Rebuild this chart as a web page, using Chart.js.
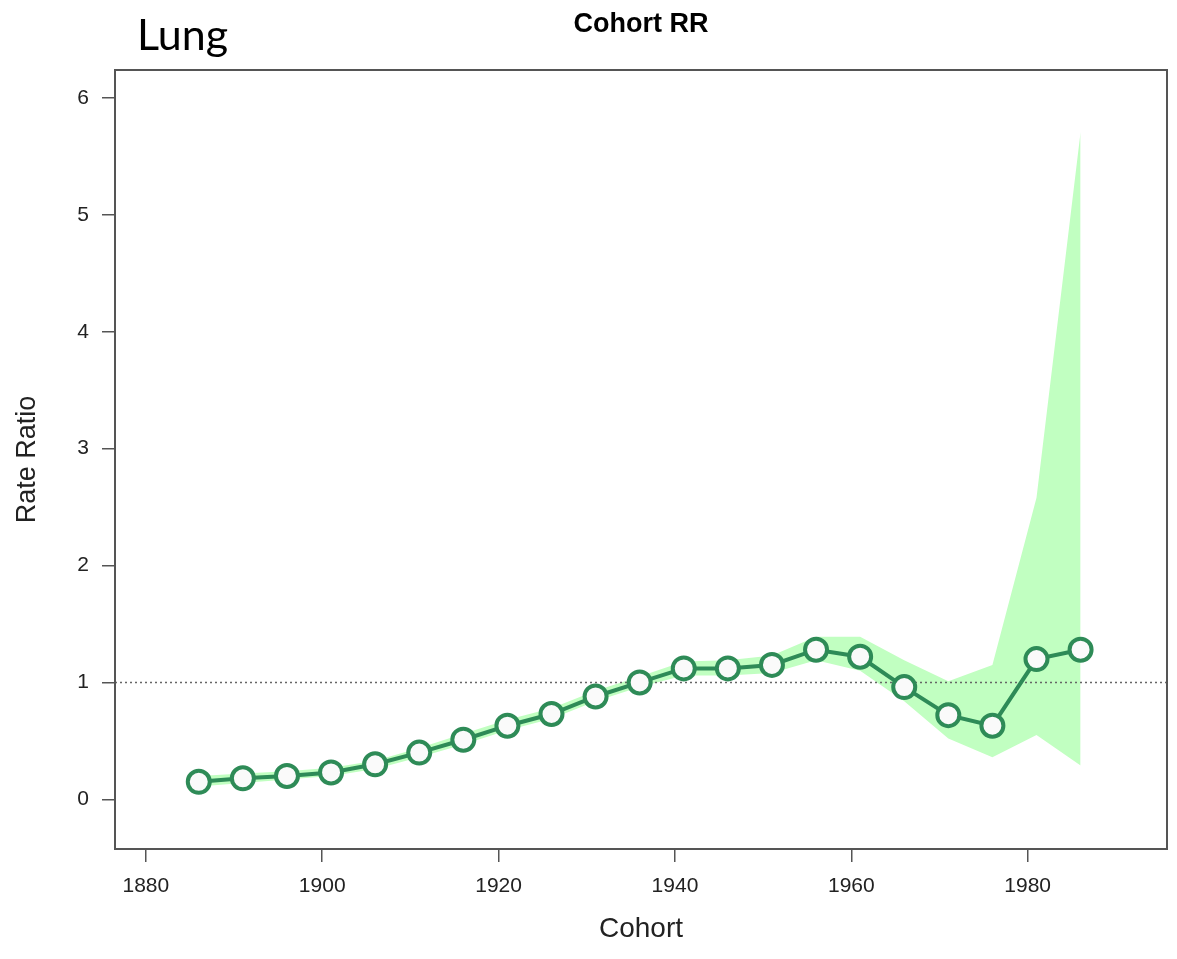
<!DOCTYPE html>
<html>
<head>
<meta charset="utf-8">
<script src="https://cdn.jsdelivr.net/npm/chart.js@4/dist/chart.umd.min.js"></script>
<style>
  html, body { margin: 0; padding: 0; background: #fff; }
  #rr { display: block; }
</style>
</head>
<body>
<canvas id="rr" width="1177" height="959"></canvas>
<script>
// cohort rate ratios
var cohorts = [1886, 1891, 1896, 1901, 1906, 1911, 1916, 1921, 1926, 1931, 1936,
               1941, 1946, 1951, 1956, 1961, 1966, 1971, 1976, 1981, 1986];
var rateRatio = [0.15, 0.18, 0.20, 0.23, 0.30, 0.40, 0.51, 0.63, 0.73, 0.88, 1.00,
                 1.12, 1.12, 1.15, 1.28, 1.22, 0.96, 0.72, 0.63, 1.20, 1.28];
var lowerCI = [0.11, 0.14, 0.17, 0.20, 0.26, 0.36, 0.47, 0.59, 0.69, 0.84, 0.96,
               1.06, 1.06, 1.08, 1.19, 1.10, 0.84, 0.52, 0.36, 0.55, 0.29];
var upperCI = [0.20, 0.22, 0.24, 0.27, 0.33, 0.44, 0.56, 0.68, 0.78, 0.93, 1.05,
               1.18, 1.19, 1.23, 1.39, 1.39, 1.19, 1.01, 1.15, 2.58, 5.71];
var xTicks = [1880, 1900, 1920, 1940, 1960, 1980];
var yTicks = [0, 1, 2, 3, 4, 5, 6];
var refLevel = 1;

var xMin = 1876.5, xMax = 1995.8;
var yMin = -0.425, yMax = 6.24;

function pts(vals) {
    return cohorts.map(function(c, i) { return {x: c, y: vals[i]}; });
}

var axisColor = '#555';
var font = 'Liberation Sans';

// box round the plot + the two headings
var framePlugin = {
    id: 'frame',
    afterDraw: function(chart) {
        var ctx = chart.ctx, a = chart.chartArea;
        ctx.save();
        ctx.strokeStyle = axisColor;
        ctx.lineWidth = 2;
        ctx.strokeRect(a.left, a.top, a.right - a.left, a.bottom - a.top);

        ctx.fillStyle = '#000';
        ctx.textBaseline = 'alphabetic';
        ctx.textAlign = 'center';
        ctx.font = 'bold 27px "' + font + '"';
        ctx.fillText('Cohort RR', (a.left + a.right) / 2, 31.5);

        ctx.textAlign = 'left';
        ctx.font = '43px Lato';
        ctx.fillText('Lung', 137, 50);
        ctx.restore();
    }
};

var ctx = document.getElementById('rr').getContext('2d');
var chart = new Chart(ctx, {
    type: 'line',
    data: {
        datasets: [{
            label: 'rr',
            data: pts(rateRatio),
            borderColor: '#2e8b57',
            borderWidth: 4,
            pointRadius: 11,
            pointBorderWidth: 4,
            pointBackgroundColor: '#fafafa',
            pointBorderColor: '#2e8b57',
            fill: false,
            order: 0
        }, {
            label: 'ref',
            data: [{x: xMin, y: refLevel}, {x: xMax, y: refLevel}],
            borderColor: '#666',
            borderWidth: 1.5,
            borderDash: [2, 3],
            pointRadius: 0,
            fill: false,
            order: 1
        }, {
            label: 'lower',
            data: pts(lowerCI),
            borderWidth: 0,
            borderColor: 'rgba(0,0,0,0)',
            pointRadius: 0,
            fill: false,
            order: 3
        }, {
            label: 'upper',
            data: pts(upperCI),
            borderWidth: 0,
            borderColor: 'rgba(0,0,0,0)',
            backgroundColor: '#c1ffc1',
            pointRadius: 0,
            fill: 2,
            order: 2
        }]
    },
    options: {
        responsive: false,
        animation: false,
        devicePixelRatio: 1,
        layout: { autoPadding: false, padding: { top: 70, right: 10, left: 0, bottom: 0 } },
        plugins: {
            legend: { display: false },
            tooltip: { enabled: false },
            title: { display: false }
        },
        scales: {
            x: {
                type: 'linear',
                min: xMin,
                max: xMax,
                afterBuildTicks: function(s) { s.ticks = xTicks.map(function(v) { return {value: v}; }); },
                afterFit: function(s) { s.height = 110; s.paddingLeft = 0; s.paddingRight = 0; },
                grid: { drawOnChartArea: false, drawTicks: true, tickLength: 13, color: axisColor, lineWidth: 1.5 },
                border: { display: true, color: axisColor, width: 2 },
                ticks: {
                    color: '#222',
                    padding: 12,
                    maxRotation: 0,
                    font: { family: font, size: 21 },
                    callback: function(v) { return String(v); }
                },
                title: {
                    display: true,
                    text: 'Cohort',
                    color: '#222',
                    font: { family: font, size: 28 },
                    padding: { top: 0, bottom: 13 }
                }
            },
            y: {
                min: yMin,
                max: yMax,
                afterBuildTicks: function(s) { s.ticks = yTicks.map(function(v) { return {value: v}; }); },
                afterFit: function(s) { s.width = 115; s.paddingTop = 0; s.paddingBottom = 0; },
                grid: { drawOnChartArea: false, drawTicks: true, tickLength: 13, color: axisColor, lineWidth: 1.5 },
                border: { display: true, color: axisColor, width: 2 },
                ticks: {
                    color: '#222',
                    padding: 13,
                    font: { family: font, size: 21 }
                },
                title: {
                    display: true,
                    text: 'Rate Ratio',
                    color: '#222',
                    font: { family: font, size: 27 },
                    padding: { top: 11, bottom: 0 }
                }
            }
        }
    },
    plugins: [framePlugin]
});
</script>
</body>
</html>
